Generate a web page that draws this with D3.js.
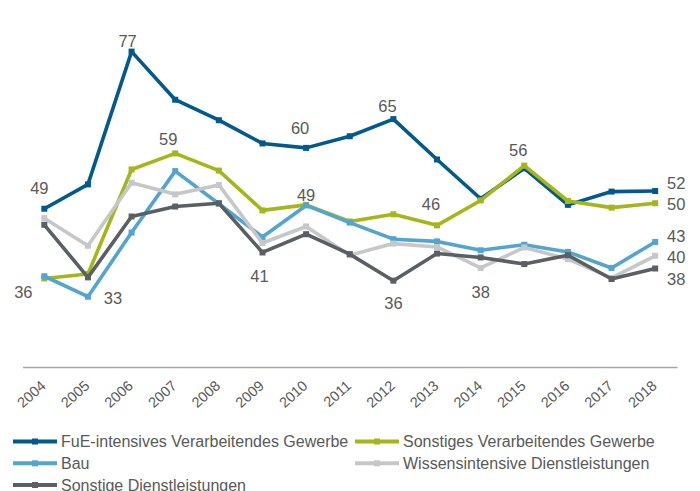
<!DOCTYPE html>
<html>
<head>
<meta charset="utf-8">
<script src="https://cdn.jsdelivr.net/npm/d3@7"></script>
<style>
  body { margin: 0; background: #fff; }
  svg text { font-family: "Liberation Sans", Arial, sans-serif; fill: #595959; }
</style>
</head>
<body>
<div id="chart"></div>
<script>
"use strict";
// Jahre
var years = [2004, 2005, 2006, 2007, 2008, 2009, 2010, 2011, 2012, 2013, 2014, 2015, 2016, 2017, 2018];
// Reihen
var seriesNames = ["FuE-intensives Verarbeitendes Gewerbe", "Sonstiges Verarbeitendes Gewerbe", "Bau",
    "Wissensintensive Dienstleistungen", "Sonstige Dienstleistungen"];
var seriesColors = ["#015a8b", "#a4b61a", "#52a5cf", "#c6c7c8", "#5a5f64"];
var fueValues = [48.6, 53.0, 77.0, 68.3, 64.6, 60.4, 59.6, 61.7, 64.8, 57.5, 50.4, 55.9, 49.3, 51.7, 51.8];
var sonstVGValues = [36.0, 36.8, 55.7, 58.6, 55.5, 48.3, 49.3, 46.3, 47.6, 45.6, 50.1, 56.4, 50.0, 48.8, 49.6];
var bauValues = [36.4, 32.7, 44.3, 55.4, 49.5, 43.5, 49.2, 46.1, 43.1, 42.7, 41.1, 42.1, 40.8, 37.9, 42.6];
var wissDLValues = [46.9, 41.9, 53.3, 51.2, 52.9, 42.4, 45.4, 40.2, 42.3, 41.7, 37.9, 41.6, 39.5, 36.1, 40.1];
var sonstDLValues = [45.7, 36.2, 47.2, 49.0, 49.6, 40.7, 44.0, 40.4, 35.6, 40.5, 39.8, 38.6, 40.2, 35.9, 37.8];
var seriesValues = [fueValues, sonstVGValues, bauValues, wissDLValues, sonstDLValues];
// Beschriftete Punkte: [Reihe, Jahr]
var labelPoints = [[0, 2004], [0, 2006], [0, 2010], [0, 2012], [0, 2018],
    [1, 2004], [1, 2007], [1, 2013], [1, 2015], [1, 2018],
    [2, 2005], [2, 2010], [2, 2018],
    [3, 2014], [3, 2018],
    [4, 2009], [4, 2012], [4, 2018]];
// Versatz der Beschriftungen (Mitte des Textes relativ zum Punkt)
var labelOffsets = [[-5, -21], [-4, -11], [-6, -20], [-6, -13], [21, -8],
    [-21, 14], [-7, -14], [-6, -21], [-6, -16], [21, 1],
    [25, 1], [0, -10], [21, -6],
    [0, 24], [21, 1],
    [-3, 24], [0, 22], [21, 10]];

var width = 700, height = 491;
var svg = d3.select("#chart").append("svg").attr("width", width).attr("height", height);

var x = d3.scalePoint().domain(years).range([22.5, 677]).padding(0.5);
var y = d3.scaleLinear().domain([20, 80]).range([367, 35]);

// x-Achse
var xAxis = svg.append("g").attr("transform", "translate(0,367)")
    .call(d3.axisBottom(x).tickSize(0).tickSizeOuter(0));
xAxis.select(".domain").attr("stroke", "#a6a6a6").attr("stroke-width", 1.3);
xAxis.selectAll(".tick text")
    .attr("x", 0).attr("y", 0).attr("dy", null)
    .attr("text-anchor", "end")
    .attr("transform", "translate(2,20) rotate(-42)")
    .style("font-size", "14.5px")
    .style("font-family", "\"Liberation Sans\", Arial, sans-serif")
    .attr("fill", "#595959");

var line = d3.line().x((d, i) => x(years[i])).y(d => y(d));

var drawOrder = [0, 1, 2, 3, 4];
drawOrder.forEach(function (s) {
    var g = svg.append("g").attr("class", "serie");
    g.append("path").datum(seriesValues[s])
        .attr("d", line).attr("fill", "none")
        .attr("stroke", seriesColors[s]).attr("stroke-width", 3.6)
        .attr("stroke-linejoin", "round");
    g.selectAll("rect").data(seriesValues[s]).join("rect")
        .attr("x", (d, i) => x(years[i]) - 3).attr("y", d => y(d) - 3)
        .attr("width", 6).attr("height", 6)
        .attr("fill", seriesColors[s]);
});

// Datenbeschriftungen
svg.append("g").selectAll("text").data(labelPoints).join("text")
    .attr("x", (d, i) => x(d[1]) + labelOffsets[i][0])
    .attr("y", (d, i) => y(seriesValues[d[0]][years.indexOf(d[1])]) + labelOffsets[i][1])
    .attr("text-anchor", "middle")
    .attr("dominant-baseline", "central")
    .style("font-size", "16.5px")
    .text(d => Math.round(seriesValues[d[0]][years.indexOf(d[1])]));

// Legende
var legendPos = [[13, 441.5], [355, 441.5], [13, 463.3], [355, 463.3], [13, 485]];
var legend = svg.append("g").selectAll("g").data(seriesNames).join("g")
    .attr("transform", (d, i) => `translate(${legendPos[i][0]},${legendPos[i][1]})`);
legend.append("line").attr("x1", 0).attr("x2", 44).attr("y1", 0).attr("y2", 0)
    .attr("stroke", (d, i) => seriesColors[i]).attr("stroke-width", 4);
legend.append("rect").attr("x", 19).attr("y", -3).attr("width", 6).attr("height", 6)
    .attr("fill", (d, i) => seriesColors[i]);
legend.append("text").attr("x", 48).attr("y", 0)
    .attr("dominant-baseline", "central")
    .style("font-size", "16px")
    .text(d => d);
</script>
</body>
</html>
